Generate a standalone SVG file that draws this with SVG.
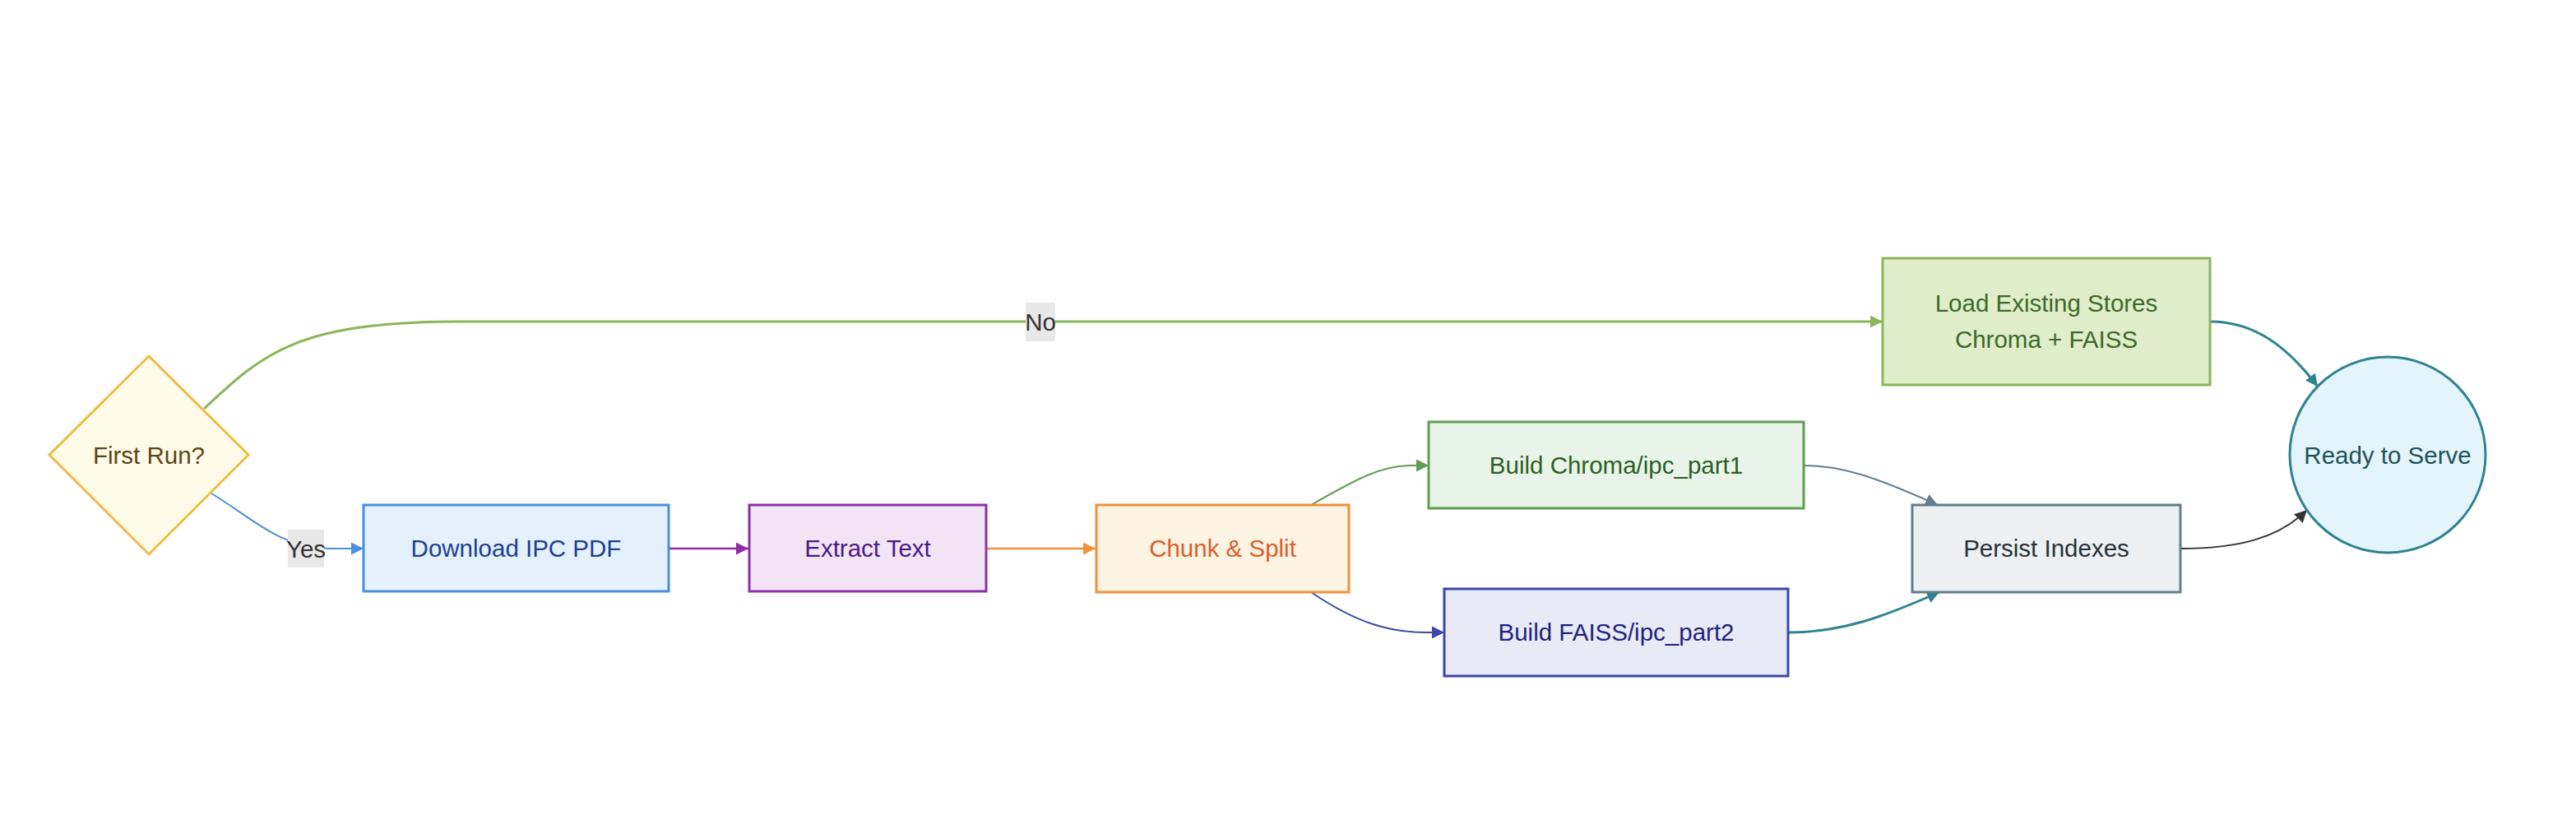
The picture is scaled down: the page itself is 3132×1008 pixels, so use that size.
<svg xmlns="http://www.w3.org/2000/svg" width="3132" height="1008" viewBox="0 0 3132 1008">
<style>
text{font-family:"Trebuchet MS","Liberation Sans",Arial,sans-serif;font-size:29.5px;text-anchor:middle}
.e{fill:none}
.lbl{fill:#333}
</style>
<defs>
<marker id="mBlue" markerUnits="userSpaceOnUse" markerWidth="16" markerHeight="16" refX="15" refY="7.5" orient="auto"><path d="M0,0L15,7.5L0,15z" fill="#4A8FE0"/></marker>
<marker id="mGreenL" markerUnits="userSpaceOnUse" markerWidth="16" markerHeight="16" refX="15" refY="7.5" orient="auto"><path d="M0,0L15,7.5L0,15z" fill="#8BB55A"/></marker>
<marker id="mPurple" markerUnits="userSpaceOnUse" markerWidth="16" markerHeight="16" refX="15" refY="7.5" orient="auto"><path d="M0,0L15,7.5L0,15z" fill="#8E2FA8"/></marker>
<marker id="mOrange" markerUnits="userSpaceOnUse" markerWidth="16" markerHeight="16" refX="15" refY="7.5" orient="auto"><path d="M0,0L15,7.5L0,15z" fill="#F0923A"/></marker>
<marker id="mGreen" markerUnits="userSpaceOnUse" markerWidth="16" markerHeight="16" refX="15" refY="7.5" orient="auto"><path d="M0,0L15,7.5L0,15z" fill="#5E9E50"/></marker>
<marker id="mIndigo" markerUnits="userSpaceOnUse" markerWidth="16" markerHeight="16" refX="15" refY="7.5" orient="auto"><path d="M0,0L15,7.5L0,15z" fill="#3A47A8"/></marker>
<marker id="mGrey" markerUnits="userSpaceOnUse" markerWidth="16" markerHeight="16" refX="15" refY="7.5" orient="auto"><path d="M0,0L15,7.5L0,15z" fill="#627D8C"/></marker>
<marker id="mTeal" markerUnits="userSpaceOnUse" markerWidth="16" markerHeight="16" refX="15" refY="7.5" orient="auto"><path d="M0,0L15,7.5L0,15z" fill="#2F8390"/></marker>
<marker id="mDark" markerUnits="userSpaceOnUse" markerWidth="16" markerHeight="16" refX="15" refY="7.5" orient="auto"><path d="M0,0L15,7.5L0,15z" fill="#333333"/></marker>
</defs>
<rect width="3132" height="1008" fill="#ffffff"/>
<g id="connectors">
<path class="e" d="M248,497 C320,430 360,391 560,391 L2289,391" stroke="#8BB55A" stroke-width="3" marker-end="url(#mGreenL)"/>
<path class="e" d="M257,600 C300,625 340,667 400,667 L442,667" stroke="#4A8FE0" stroke-width="2" marker-end="url(#mBlue)"/>
<path class="e" d="M813,667 L910,667" stroke="#8E2FA8" stroke-width="2.5" marker-end="url(#mPurple)"/>
<path class="e" d="M1199,667 L1332,667" stroke="#F0923A" stroke-width="2.5" marker-end="url(#mOrange)"/>
<path class="e" d="M1594,614 C1650,582 1680,566 1715,566 L1737,566" stroke="#5E9E50" stroke-width="2" marker-end="url(#mGreen)"/>
<path class="e" d="M1594,720 C1650,758 1690,769 1735,769 L1756,769" stroke="#3A47A8" stroke-width="2" marker-end="url(#mIndigo)"/>
<path class="e" d="M2193,566 C2240,566 2280,580 2356,614" stroke="#627D8C" stroke-width="2" marker-end="url(#mGrey)"/>
<path class="e" d="M2174,769 C2240,769 2290,750 2358,720" stroke="#2F8390" stroke-width="3" marker-end="url(#mTeal)"/>
<path class="e" d="M2687,391 C2740,391 2780,420 2818,470" stroke="#2F8390" stroke-width="3" marker-end="url(#mTeal)"/>
<path class="e" d="M2651,667 C2720,667 2770,655 2805,620" stroke="#333333" stroke-width="2" marker-end="url(#mDark)"/>
<g id="label-yes"><rect x="350" y="644" width="44" height="46" fill="#e8e8e8"/><text class="lbl" x="372" y="678">Yes</text></g>
<g id="label-no"><rect x="1247" y="368" width="36" height="47" fill="#e8e8e8"/><text class="lbl" x="1265" y="402">No</text></g>
</g>
<g id="node-first-run"><polygon points="181,433 302,553 181,674 60,553" fill="#FFFBE8" stroke="#F0BC42" stroke-width="3"/><text x="181" y="564" fill="#5E4514">First Run?</text></g>
<g id="node-download"><rect x="442" y="614" width="371" height="105" fill="#E4F1FC" stroke="#4A8FE0" stroke-width="3"/><text x="627.5" y="677" fill="#1E3F92">Download IPC PDF</text></g>
<g id="node-extract"><rect x="911" y="614" width="288" height="105" fill="#F2E4F4" stroke="#8E2FA8" stroke-width="3"/><text x="1055" y="677" fill="#4A1A8A">Extract Text</text></g>
<g id="node-chunk"><rect x="1333" y="614" width="307" height="106" fill="#FDF3E3" stroke="#F0923A" stroke-width="3"/><text x="1486.5" y="677" fill="#D9602A">Chunk &amp; Split</text></g>
<g id="node-chroma"><rect x="1737" y="513" width="456" height="105" fill="#E8F4E8" stroke="#5E9E50" stroke-width="3"/><text x="1965" y="576" fill="#2B5F26">Build Chroma/ipc_part1</text></g>
<g id="node-faiss"><rect x="1756" y="716" width="418" height="106" fill="#E8EAF6" stroke="#3A47A8" stroke-width="3"/><text x="1965" y="779" fill="#1E237C">Build FAISS/ipc_part2</text></g>
<g id="node-load"><rect x="2289" y="314" width="398" height="154" fill="#DFEDCB" stroke="#8BB55A" stroke-width="3"/><text x="2488" y="379" fill="#3C6A25">Load Existing Stores</text><text x="2488" y="423" fill="#3C6A25">Chroma + FAISS</text></g>
<g id="node-persist"><rect x="2325" y="614" width="326" height="106" fill="#EDEFF1" stroke="#627D8C" stroke-width="3"/><text x="2488" y="677" fill="#263238">Persist Indexes</text></g>
<g id="node-ready"><circle cx="2903" cy="553" r="119" fill="#E3F5FA" stroke="#2F8390" stroke-width="3"/><text x="2903" y="564" fill="#1D525C">Ready to Serve</text></g>
</svg>
